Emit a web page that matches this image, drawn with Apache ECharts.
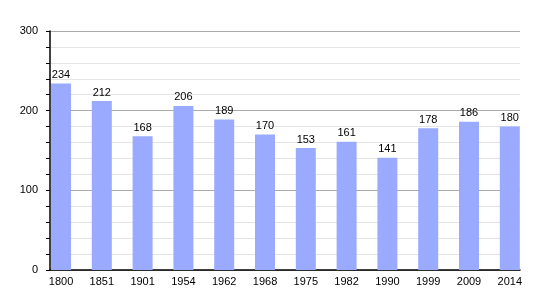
<!DOCTYPE html>
<html>
<head>
<meta charset="utf-8">
<script src="https://cdn.jsdelivr.net/npm/echarts@6/dist/echarts.min.js"></script>
<style>html,body{margin:0;padding:0;background:#fff}#c{width:550px;height:300px}</style>
</head>
<body>
<div id="c"></div>
<script>
const categories = ['1800','1851','1901','1954','1962','1968','1975','1982','1990','1999','2009','2014'];
const population = [234,212,168,206,189,170,153,161,141,178,186,180];
const yTicks = [0,100,200,300];

const chart = echarts.init(document.getElementById('c'), null, {renderer:'canvas'});
const font = 'Liberation Sans, Arial, sans-serif';
chart.setOption({
  animation:false,
  grid:{left:50,right:30,top:31,bottom:30,containLabel:false},
  xAxis:{
    type:'value', min:-0.27, max:11.25, splitNumber:12,
    axisLine:{show:true,onZero:false,lineStyle:{color:'#000',width:1.5}},
    axisTick:{show:false},
    splitLine:{show:false},
    axisLabel:{
      showMinLabel:false, showMaxLabel:false,
      color:'#000', fontFamily:font, fontSize:11, margin:6,
      formatter:function(v){ return Number.isInteger(v) && categories[v] ? categories[v] : ''; }
    }
  },
  yAxis:{
    type:'value', min:yTicks[0], max:yTicks[yTicks.length-1], interval:100,
    axisLine:{show:true,onZero:false,lineStyle:{color:'#000',width:1.5}},
    axisTick:{show:true,length:4,lineStyle:{color:'#000'}},
    minorTick:{show:true,splitNumber:5,length:4,lineStyle:{color:'#000'}},
    splitLine:{show:true,lineStyle:{color:'#aaaaaa',width:1}},
    minorSplitLine:{show:true,lineStyle:{color:'#e4e4e4',width:1}},
    axisLabel:{color:'#000',fontFamily:font,fontSize:11,margin:12}
  },
  series:[{
    type:'bar',
    data:population.map((v,i)=>[i,v]),
    barWidth:20,
    itemStyle:{color:'#9aabff'},
    label:{show:true,position:'top',distance:3,color:'#000',fontFamily:font,fontSize:11,
      formatter:p=>String(p.value[1])}
  }]
});
</script>
</body>
</html>
